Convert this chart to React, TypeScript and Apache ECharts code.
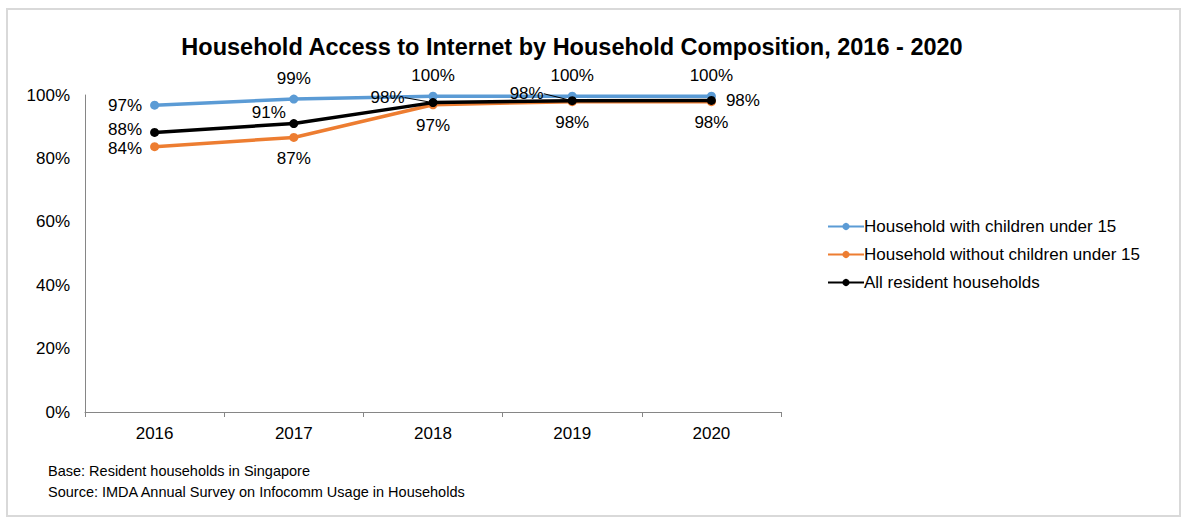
import React, { useEffect, useRef } from "react";
import * as echarts from "echarts";

const years = ["2016", "2017", "2018", "2019", "2020"];
const withChildren = [96.8, 98.7, 99.6, 99.6, 99.6];
const withoutChildren = [83.7, 86.6, 96.9, 97.9, 97.9];
const allHouseholds = [88.2, 91.0, 97.6, 98.2, 98.3];
const yTicks = [0, 20, 40, 60, 80, 100];

const FONT = "'Liberation Sans', Arial, sans-serif";

export default function App() {
  const ref = useRef<HTMLDivElement>(null);
  useEffect(() => {
    if (!ref.current) return;
    const chart = echarts.init(ref.current, null, { renderer: "svg" });
    const fmt = (p: any) => Math.round(p.value) + "%";
    const lbl = (position: any, extra: any = {}) => ({
      show: true,
      position,
      formatter: fmt,
      color: "#000",
      fontSize: 17,
      fontFamily: FONT,
      ...extra,
    });
    const mk = (vals: number[], labels: any[]) =>
      vals.map((v, i) => ({ value: v, label: labels[i] }));

    const blueData = mk(withChildren, [
      lbl("left", { distance: 8 }),
      lbl("top", { distance: 8 }),
      lbl("top", { distance: 8 }),
      lbl("top", { distance: 8 }),
      lbl("top", { distance: 8 }),
    ]);
    const orangeData = mk(withoutChildren, [
      lbl("left", { distance: 8, offset: [0, 2] }),
      lbl("bottom", { distance: 8 }),
      lbl("bottom", { distance: 8 }),
      lbl("bottom", { distance: 8 }),
      lbl("bottom", { distance: 8 }),
    ]);
    const noLine = { show: false };
    const leader = { show: true, length2: 0, lineStyle: { color: "#000", width: 1 } };
    const blackPos = ["left", "top", "left", "left", "right"];
    const blackShift = [
      [0, -3],
      [-25, 6],
      [-16, -5],
      [-16, -7],
      [0, 0],
    ];
    const blackLeader = [false, false, true, true, false];
    const blackData = allHouseholds.map((v, i) => ({
      value: v,
      label: lbl(blackPos[i], { distance: i === 4 ? 10 : i === 1 ? 4 : 8 }),
      labelLine: blackLeader[i] ? leader : noLine,
    }));

    const series = (name: string, color: string, data: any[], z: number, extra: any = {}) => ({
      name,
      type: "line",
      data,
      z,
      symbol: "circle",
      symbolSize: 9,
      lineStyle: { color, width: 3.5 },
      itemStyle: { color },
      labelLine: noLine,
      ...extra,
    });

    chart.setOption({
      animation: false,
      backgroundColor: "#fff",
      title: {
        text: "Household Access to Internet by Household Composition, 2016 - 2020",
        left: 567,
        textAlign: "center",
        top: 30,
        textStyle: { fontFamily: FONT, fontSize: 23.5, fontWeight: "bold", color: "#000" },
      },
      legend: {
        orient: "vertical",
        left: 822,
        top: 213,
        itemGap: 11,
        itemWidth: 36,
        itemHeight: 9,
        textStyle: { fontFamily: FONT, fontSize: 17, color: "#000", padding: [0, 0, 0, -5] },
        data: [
          "Household with children under 15",
          "Household without children under 15",
          "All resident households",
        ],
      },
      grid: { left: 85, top: 95, width: 696, height: 317, containLabel: false },
      xAxis: {
        type: "category",
        data: years,
        boundaryGap: true,
        axisLine: { show: true, lineStyle: { color: "#868686", width: 1 } },
        axisTick: { show: true, length: 5, alignWithLabel: false, lineStyle: { color: "#868686" } },
        axisLabel: { fontFamily: FONT, fontSize: 17, color: "#000", margin: 13 },
      },
      yAxis: {
        type: "value",
        min: 0,
        max: 100,
        interval: 20,
        axisLine: { show: true, lineStyle: { color: "#868686", width: 1 } },
        axisTick: { show: false },
        splitLine: { show: false },
        axisLabel: {
          fontFamily: FONT,
          fontSize: 17,
          color: "#000",
          margin: 15,
          formatter: (v: number) => (yTicks.includes(v) ? v + "%" : ""),
        },
      },
      graphic: [
        {
          type: "rect",
          shape: { x: 7, y: 9, width: 1173, height: 507 },
          style: { fill: "none", stroke: "#d9d9d9", lineWidth: 2 },
          silent: true,
          z: -1,
        },
        {
          type: "text",
          left: 48,
          top: 460,
          style: {
            text: "Base: Resident households in Singapore\nSource: IMDA Annual Survey on Infocomm Usage in Households",
            fontFamily: FONT,
            fontSize: 14.5,
            lineHeight: 21,
            fill: "#000",
          },
        },
      ],
      series: [
        series("Household with children under 15", "#5b9bd5", blueData, 2),
        series("Household without children under 15", "#ed7d31", orangeData, 3),
        series("All resident households", "#000000", blackData, 4, {
          labelLine: leader,
          labelLayout: (p: any) => {
            const s = blackShift[p.dataIndex] || [0, 0];
            return { dx: s[0], dy: s[1] };
          },
        }),
      ],
    });
    return () => chart.dispose();
  }, []);
  return (
    <div
      ref={ref}
      style={{ position: "fixed", left: 0, top: 0, width: 1193, height: 523 }}
    />
  );
}
